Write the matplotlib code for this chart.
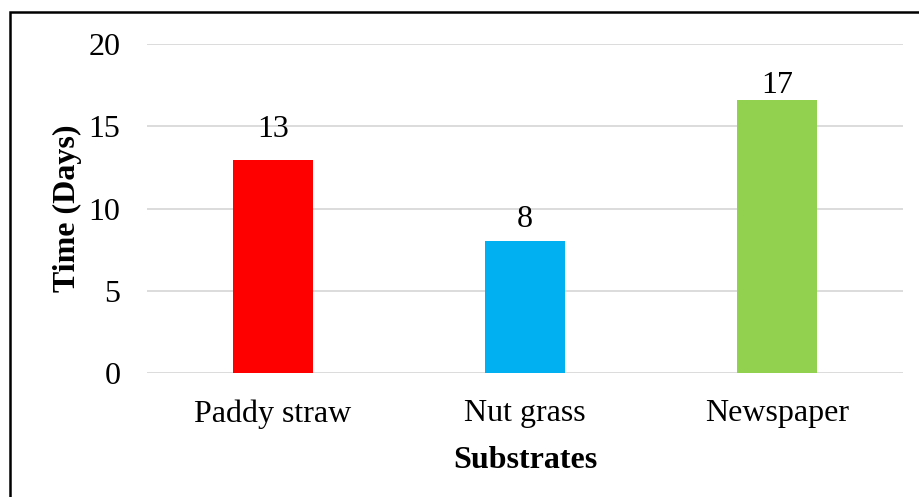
import matplotlib.pyplot as plt
from matplotlib.patches import Rectangle

substrates = ["Paddy straw", "Nut grass", "Newspaper"]
days = [12.95, 8.02, 16.6]
day_labels = ["13", "8", "17"]
bar_colors = ["#FF0000", "#00B0F0", "#92D050"]
y_ticks = [0, 5, 10, 15, 20]

plt.rcParams['font.family'] = ['Liberation Serif', 'DejaVu Serif']

fig = plt.figure(figsize=(9.2, 4.97), dpi=100)
ax = fig.add_axes([147/920, 1 - 373/497, 756/920, 329/497])

x = range(len(substrates))
bars = ax.bar(x, days, width=0.315, color=bar_colors, zorder=3)
label_offsets = [11.5, 5, 0]  # label gaps above bars differ in the original
for b, lab, off in zip(bars, day_labels, label_offsets):
    ax.annotate(lab, (b.get_x() + b.get_width()/2, b.get_height()),
                xytext=(0, off), textcoords="offset points",
                ha="center", va="bottom", fontsize=23)

ax.set_xlim(-0.5, 2.5)
ax.set_ylim(0, 20)
ax.set_yticks(y_ticks)
ax.set_xticks(list(x))
ax.set_xticklabels(substrates)
ax.tick_params(axis="both", length=0, labelsize=23)
ax.tick_params(axis="y", pad=19)
ax.tick_params(axis="x", pad=19)
ax.grid(axis="y", color="#D9D9D9", linewidth=1.3, zorder=0)
for s in ax.spines.values():
    s.set_visible(False)

ax.set_xlabel("Substrates", fontsize=23, fontweight="bold", labelpad=12)
ax.set_ylabel("Time (Days)", fontsize=23, fontweight="bold", labelpad=5)

# outer frame (right and bottom edges fall outside the image)
fig.patches.append(Rectangle((10/920, -0.1), 1.0, 1 - 12/497 + 0.1,
                             transform=fig.transFigure, fill=False,
                             edgecolor="black", linewidth=1.8))

fig.savefig("out.png", dpi=100)
